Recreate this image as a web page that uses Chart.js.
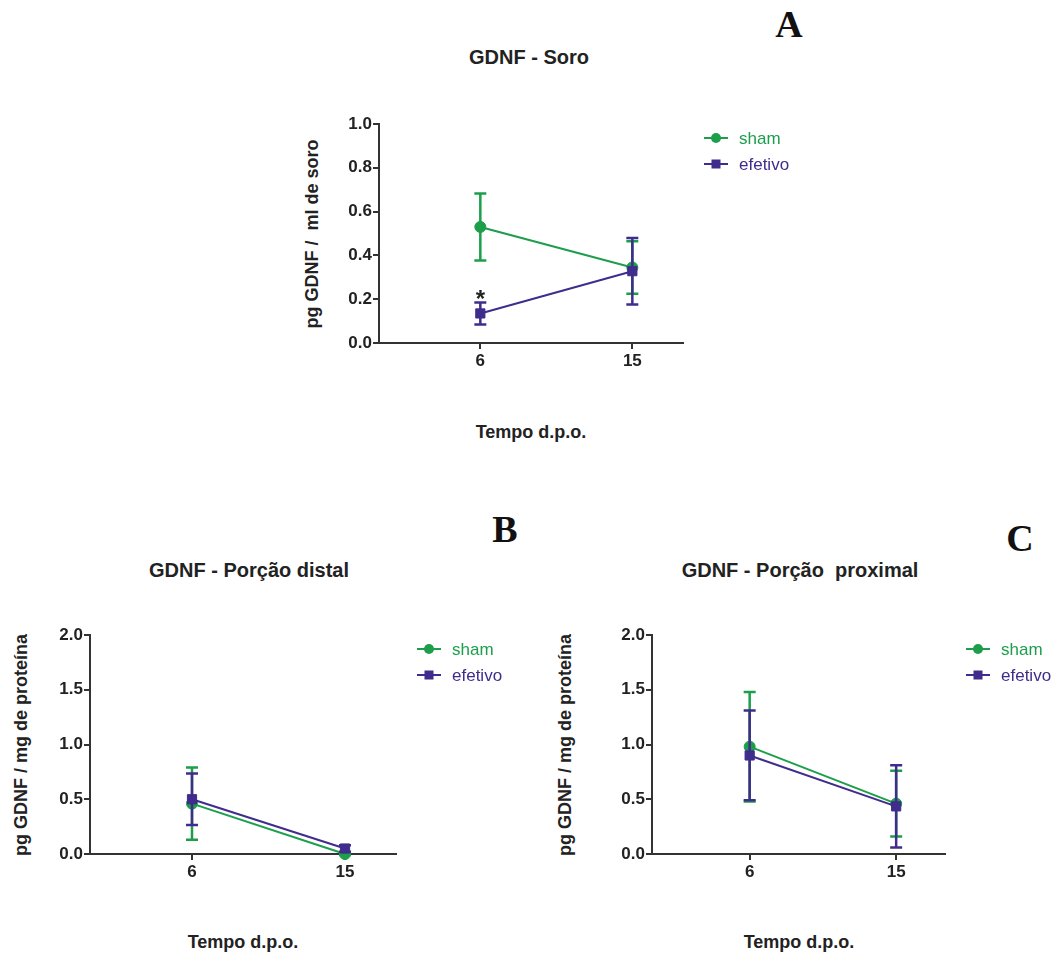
<!DOCTYPE html>
<html>
<head>
<meta charset="utf-8">
<script src="https://cdn.jsdelivr.net/npm/chart.js@4.4.1/dist/chart.umd.min.js"></script>
<style>
html, body { margin: 0; padding: 0; background: #fff; overflow: hidden; }
#page { position: relative; width: 1052px; height: 954px; background: #fff; }
.txt { position: absolute; font-family: 'Liberation Sans', Arial, sans-serif; font-weight: bold; color: #222;
       white-space: pre; line-height: 1; transform: translate(-50%, -50%); }
.rot { transform: translate(-50%, -50%) rotate(-90deg); }
.letter { position: absolute; font-family: 'Liberation Serif', 'Times New Roman', serif; font-weight: bold;
          font-size: 38px; color: #111; line-height: 1; transform: translate(-50%, -50%); }
.box { position: absolute; }
</style>
</head>
<body>
<div id="page">
  <div class="letter" style="left:789px; top:24px;">A</div>
  <div class="letter" style="left:505px; top:529px;">B</div>
  <div class="letter" style="left:1020px; top:538px;">C</div>

  <div class="txt" style="left:529px; top:57px; font-size:20px;">GDNF - Soro</div>
  <div class="txt" style="left:249px; top:570px; font-size:20px;">GDNF - Porção distal</div>
  <div class="txt" style="left:800px; top:570px; font-size:20px;">GDNF - Porção  proximal</div>

  <div class="txt" style="left:531px; top:432px; font-size:18px;">Tempo d.p.o.</div>
  <div class="txt" style="left:243px; top:942px; font-size:18px;">Tempo d.p.o.</div>
  <div class="txt" style="left:799px; top:942px; font-size:18px;">Tempo d.p.o.</div>

  <div class="txt rot" style="left:312px; top:234px; font-size:18px;">pg GDNF /  ml de soro</div>
  <div class="txt rot" style="left:21px; top:745px; font-size:18px;">pg GDNF / mg de proteína</div>
  <div class="txt rot" style="left:565px; top:745px; font-size:18px;">pg GDNF / mg de proteína</div>

  <div class="box" id="boxA"><canvas id="chartA"></canvas></div>
  <div class="box" id="boxB"><canvas id="chartB"></canvas></div>
  <div class="box" id="boxC"><canvas id="chartC"></canvas></div>
</div>

<script>
// Data
const days = [6, 15];
const seriesNames = ['sham', 'efetivo'];

// A - soro (pg GDNF / ml)
const soroSham = [0.53, 0.345];
const soroShamErr = [0.153, 0.12];
const soroEfetivo = [0.135, 0.328];
const soroEfetivoErr = [0.05, 0.152];
const soroEfetivoStars = ['*', ''];

// B - porção distal (pg GDNF / mg proteína)
const distalSham = [0.46, 0.0];
const distalShamErr = [0.33, 0.01];
const distalEfetivo = [0.50, 0.05];
const distalEfetivoErr = [0.235, 0.03];

// C - porção proximal (pg GDNF / mg proteína)
const proxSham = [0.98, 0.46];
const proxShamErr = [0.5, 0.30];
const proxEfetivo = [0.90, 0.435];
const proxEfetivoErr = [0.41, 0.375];

const GREEN = '#1c9e4b';
const PURPLE = '#3f2c8c';
const AXIS = '#333333';
const FONT = "'Liberation Sans', Arial, sans-serif";

Chart.defaults.font.family = FONT;
Chart.defaults.color = '#222';

// Error bars + asterisks, drawn under each dataset's own line
const errorBars = {
    id: 'errorBars',
    beforeDatasetDraw(chart, args) {
        const ds = chart.data.datasets[args.index];
        const y = chart.scales.y;
        const ctx = chart.ctx;
        ctx.save();
        ctx.strokeStyle = ds.borderColor;
        ctx.lineWidth = 2.5;
        args.meta.data.forEach((pt, i) => {
            const v = ds.data[i].y;
            const e = ds.errors[i];
            const top = y.getPixelForValue(v + e);
            const bot = y.getPixelForValue(v - e);
            ctx.beginPath();
            ctx.moveTo(pt.x, top); ctx.lineTo(pt.x, bot);
            ctx.moveTo(pt.x - 6, top); ctx.lineTo(pt.x + 6, top);
            ctx.moveTo(pt.x - 6, bot); ctx.lineTo(pt.x + 6, bot);
            ctx.stroke();
            if (ds.stars && ds.stars[i]) {
                ctx.fillStyle = '#222';
                ctx.font = 'bold 24px ' + FONT;
                ctx.textAlign = 'center';
                ctx.textBaseline = 'alphabetic';
                ctx.fillText(ds.stars[i], pt.x, top + 5);
            }
        });
        ctx.restore();
    }
};

// Legend to the right of the plot: line with marker, coloured label
const sideLegend = {
    id: 'sideLegend',
    afterDraw(chart) {
        const { ctx, chartArea } = chart;
        chart.data.datasets.forEach((ds, i) => {
            const y = chartArea.top + 14 + i * 26;
            const x0 = chartArea.right + 21;
            ctx.save();
            ctx.strokeStyle = ds.borderColor;
            ctx.fillStyle = ds.borderColor;
            ctx.lineWidth = 2;
            ctx.beginPath();
            ctx.moveTo(x0, y); ctx.lineTo(x0 + 24, y);
            ctx.stroke();
            if (ds.pointStyle === 'circle') {
                ctx.beginPath();
                ctx.arc(x0 + 12, y, 5, 0, Math.PI * 2);
                ctx.fill();
            } else {
                ctx.fillRect(x0 + 12 - 4.5, y - 4.5, 9, 9);
            }
            ctx.font = '17px ' + FONT;
            ctx.textBaseline = 'middle';
            ctx.fillText(ds.label, x0 + 35, y + 1);
            ctx.restore();
        });
    }
};

function makeChart(canvasId, boxId, area, yMax, yStep, sham, shamErr, efetivo, efetivoErr, stars) {
    const padRight = Math.min(170, 1052 - area.right);
    const box = document.getElementById(boxId);
    box.style.left = (area.left - 80) + 'px';
    box.style.top = (area.top - 20) + 'px';
    box.style.width = (area.right - area.left + 80 + padRight) + 'px';
    box.style.height = (area.bottom - area.top + 60) + 'px';

    return new Chart(document.getElementById(canvasId), {
        type: 'line',
        data: {
            datasets: [
                {
                    label: seriesNames[0],
                    data: sham.map((v, i) => ({ x: days[i], y: v })),
                    errors: shamErr,
                    borderColor: GREEN,
                    backgroundColor: GREEN,
                    borderWidth: 2,
                    pointStyle: 'circle',
                    pointRadius: 5.5,
                    pointBorderWidth: 1,
                    order: 1,
                    clip: false
                },
                {
                    label: seriesNames[1],
                    data: efetivo.map((v, i) => ({ x: days[i], y: v })),
                    errors: efetivoErr,
                    stars: stars,
                    borderColor: PURPLE,
                    backgroundColor: PURPLE,
                    borderWidth: 2,
                    pointStyle: 'rect',
                    pointRadius: 6.5,
                    pointBorderWidth: 1,
                    order: 0,
                    clip: false
                }
            ]
        },
        options: {
            responsive: true,
            maintainAspectRatio: false,
            animation: false,
            layout: { padding: { left: 20, top: 20, right: padRight, bottom: 10 } },
            plugins: { legend: { display: false }, tooltip: { enabled: false } },
            scales: {
                x: {
                    type: 'linear',
                    min: 0,
                    max: 18,
                    afterBuildTicks: s => { s.ticks = days.map(v => ({ value: v })); },
                    afterFit: s => { s.height = 30; },
                    ticks: {
                        font: { size: 17, weight: 'bold' },
                        color: '#222',
                        padding: 2,
                        maxRotation: 0,
                        callback: v => String(v)
                    },
                    grid: { drawOnChartArea: false, drawTicks: true, tickLength: 6, color: AXIS, lineWidth: 2 },
                    border: { display: true, color: AXIS, width: 2 }
                },
                y: {
                    min: 0,
                    max: yMax,
                    afterFit: s => { s.width = 60; },
                    ticks: {
                        stepSize: yStep,
                        font: { size: 17, weight: 'bold' },
                        color: '#222',
                        padding: 1,
                        callback: v => v.toFixed(1)
                    },
                    grid: { drawOnChartArea: false, drawTicks: true, tickLength: 6, color: AXIS, lineWidth: 2 },
                    border: { display: true, color: AXIS, width: 2 }
                }
            }
        },
        plugins: [errorBars, sideLegend]
    });
}

makeChart('chartA', 'boxA', { left: 379, right: 683, top: 124, bottom: 343 }, 1.0, 0.2,
    soroSham, soroShamErr, soroEfetivo, soroEfetivoErr, soroEfetivoStars);
makeChart('chartB', 'boxB', { left: 90, right: 396, top: 635, bottom: 854 }, 2.0, 0.5,
    distalSham, distalShamErr, distalEfetivo, distalEfetivoErr, null);
makeChart('chartC', 'boxC', { left: 652, right: 945, top: 635, bottom: 854 }, 2.0, 0.5,
    proxSham, proxShamErr, proxEfetivo, proxEfetivoErr, null);
</script>
</body>
</html>
